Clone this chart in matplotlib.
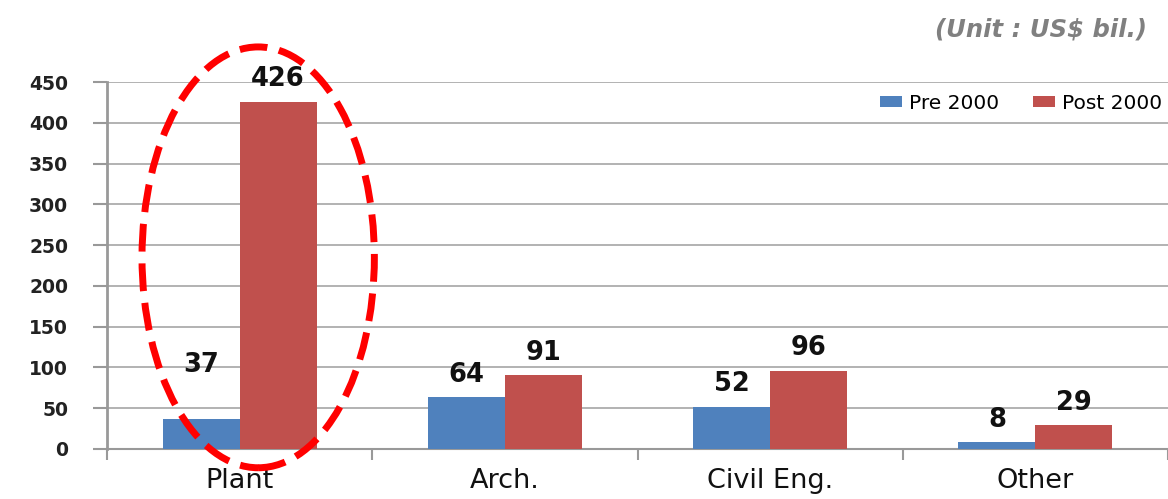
import matplotlib
matplotlib.use("Agg")
import matplotlib.pyplot as plt
from matplotlib.patches import Ellipse
import numpy as np

categories = ["Plant", "Arch.", "Civil Eng.", "Other"]
pre_2000 = [37, 64, 52, 8]
post_2000 = [426, 91, 96, 29]
series_names = ["Pre 2000", "Post 2000"]
yticks = [0, 50, 100, 150, 200, 250, 300, 350, 400, 450]

BLUE = "#4F81BD"
RED = "#C0504D"
GRID = "#A6A6A6"

fig = plt.figure(figsize=(11.68, 4.99), dpi=100)
ax = fig.add_axes([107/1168, 1 - 449/499, 1 - 107/1168, (449 - 82)/499])

x = np.arange(len(categories))
w = 0.29
b1 = ax.bar(x - w/2, pre_2000, w, color=BLUE, label=series_names[0], zorder=3)
b2 = ax.bar(x + w/2, post_2000, w, color=RED, label=series_names[1], zorder=3)

ax.set_xlim(-0.5, len(categories) - 0.5)
ax.set_ylim(0, 450)
ax.set_yticks(yticks)
ax.set_yticklabels([str(v) for v in yticks], fontfamily="DejaVu Sans",
                   fontweight="bold", fontsize=13.5, color="#222222")
ax.grid(axis="y", color=GRID, linewidth=1.2, zorder=0)
ax.set_axisbelow(True)

ax.set_xticks(x)
ax.set_xticklabels(categories, fontfamily="DejaVu Sans", fontsize=19.5, color="#111111")
ax.set_xticks(np.arange(len(categories) + 1) - 0.5, minor=True)
ax.tick_params(axis="x", which="major", length=0, pad=14)
ax.tick_params(axis="x", which="minor", length=8, width=1.5, color="#999999", direction="out")
ax.tick_params(axis="y", length=10, width=1.5, color="#999999", pad=18)

for s in ["top", "right"]:
    ax.spines[s].set_visible(False)
ax.spines["left"].set_color("#999999")
ax.spines["left"].set_linewidth(2)
ax.spines["bottom"].set_color("#999999")
ax.spines["bottom"].set_linewidth(1.5)

# value labels
for i, (bars, vals) in enumerate([(b1, pre_2000), (b2, post_2000)]):
    for j, (rect, v) in enumerate(zip(bars, vals)):
        off = 16
        if i == 0 and j == 0:
            off = 39
        ax.annotate(str(v), (rect.get_x() + rect.get_width()/2, v),
                    xytext=(0, off), textcoords="offset points",
                    ha="center", va="center", fontfamily="DejaVu Sans",
                    fontweight="bold", fontsize=18.5, color="#111111", zorder=5)

leg = ax.legend(loc="upper right", bbox_to_anchor=(1.012, 1.018), ncol=2, frameon=False,
                prop={"family": "DejaVu Sans", "size": 14.5},
                handlelength=1.1, handleheight=0.5, handletextpad=0.35, columnspacing=1.7)

# dashed highlight ellipse around Plant
ell = Ellipse((0.07, 235), 0.876, 516, fill=False, edgecolor="#FF0000",
              linewidth=5, linestyle=(0, (4, 1.7)), clip_on=False, zorder=6)
ax.add_patch(ell)

fig.text(1147/1168, 1 - 29/499, "(Unit : US$ bil.)", ha="right", va="center",
         fontfamily="DejaVu Sans", fontweight="bold", fontstyle="italic",
         fontsize=17.5, color="#808080")

fig.savefig("out.png", dpi=100)
